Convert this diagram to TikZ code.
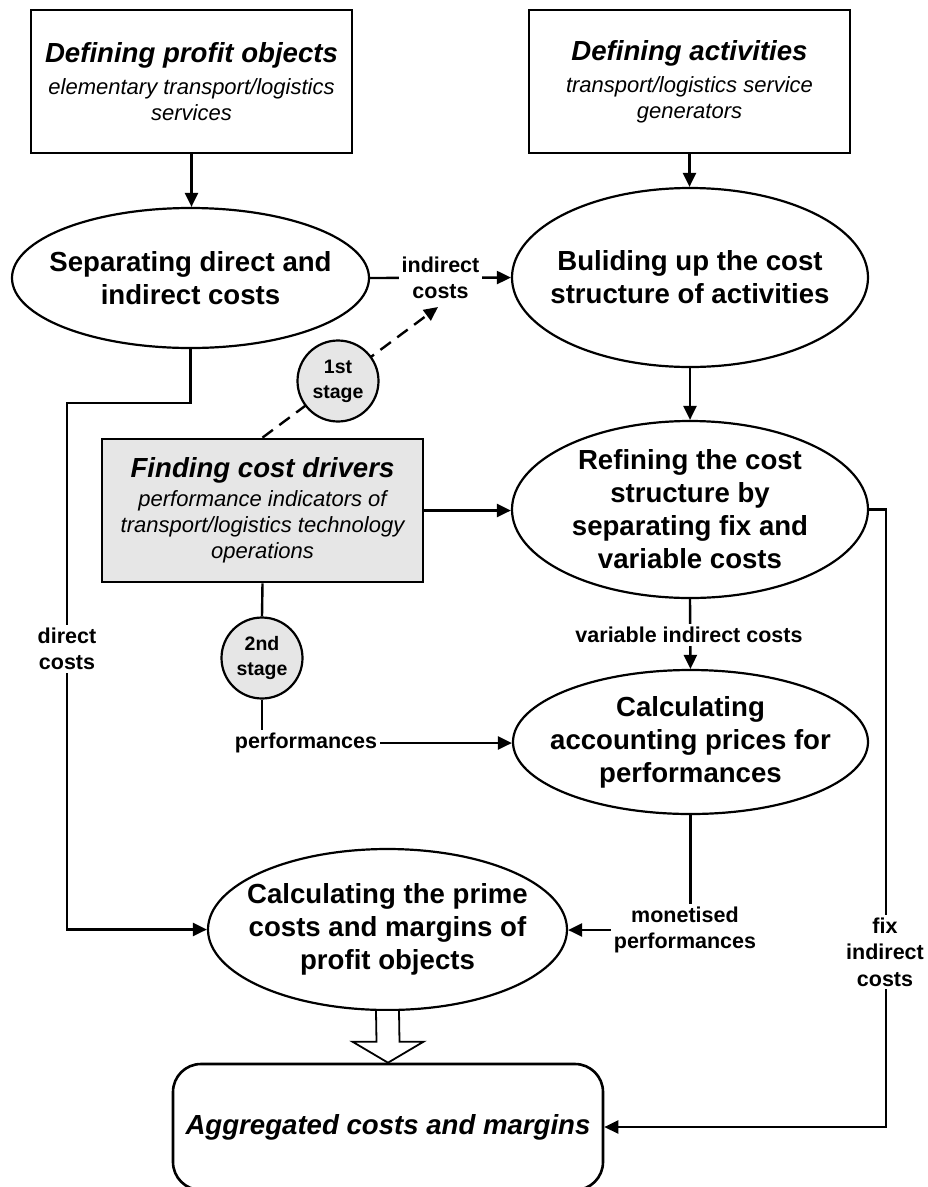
\documentclass[tikz,border=0pt]{standalone}
\usepackage{fontspec}
\setmainfont{Liberation Sans}
\usetikzlibrary{shapes.geometric,arrows.meta,calc,backgrounds}
\definecolor{boxgray}{HTML}{E6E6E6}
\newcommand{\fmain}{\fontsize{27.6}{33}\selectfont\bfseries}
\newcommand{\ftitle}{\fontsize{27.6}{33}\selectfont\bfseries\itshape}
\newcommand{\fsub}{\fontsize{22}{26}\selectfont\itshape}
\newcommand{\flbl}{\fontsize{21.5}{26.5}\selectfont\bfseries}
\newcommand{\fstage}{\fontsize{19.5}{25}\selectfont\bfseries}
\begin{document}
\begin{tikzpicture}[x=1pt,y=-1pt,
 rbox/.style={draw, line width=2.8pt, minimum width=321pt, minimum height=143pt, inner sep=0pt, align=center, font=\fsub},
 ell/.style={ellipse, draw, line width=2.2pt, inner sep=0pt},
 ellt/.style={align=center, font=\fmain, inner sep=0pt},
 lbl/.style={fill=white, inner sep=3pt, align=center, font=\flbl},
 stagec/.style={circle, draw, fill=boxgray, line width=2.2pt, minimum size=81pt, inner sep=0pt, align=center, font=\fstage},
 arr/.style={-{Triangle[length=14pt,width=13pt]}, line width=2.4pt},
 ln/.style={line width=2.4pt},
 dasharr/.style={arr, dash pattern=on 13pt off 8pt},
]
\useasboundingbox (0,0) rectangle (928,1187);

% boxes
\node[rbox] (pobj) at (191.5,81.5) {{\ftitle Defining profit objects}\\[6pt]elementary transport/logistics\\services};
\node[rbox] (act) at (689.5,81.5) {{\ftitle Defining activities}\\[6pt]transport/logistics service\\generators};
\node[rbox, fill=boxgray] (drv) at (262.5,510.5) {{\ftitle Finding cost drivers}\\[3pt]performance indicators of\\transport/logistics technology\\operations};

% ellipses
\node[ell, minimum width=357pt, minimum height=140pt] (sep) at (190.5,278) {};
\node[ellt] (sept) at (sep) {Separating direct and\\indirect costs};
\node[ell, minimum width=356pt, minimum height=179pt] (build) at (690,277.5) {};
\node[ellt] (buildt) at (build) {Buliding up the cost\\structure of activities};
\node[ell, minimum width=356pt, minimum height=177pt] (refine) at (690,509.5) {};
\node[ellt] (refinet) at (refine) {Refining the cost\\structure by\\separating fix and\\variable costs};
\node[ell, minimum width=355pt, minimum height=144pt] (acc) at (690.5,742) {};
\node[ellt] (acct) at (acc) {Calculating\\accounting prices for\\performances};
\node[ell, minimum width=359pt, minimum height=161pt] (prime) at (387.5,929.5) {};
\node[ellt] (primet) at (prime) {Calculating the prime\\costs and margins of\\profit objects};

\node[draw, rounded corners=28pt, line width=2.6pt, minimum width=430pt, minimum height=126pt, font=\ftitle] (agg) at (388,1127) {Aggregated costs and margins};

% stage circles
\node[stagec] (st1) at (338,381) {1st\\stage};
\node[stagec] (st2) at (262,658) {2nd\\stage};

% labels
\node[lbl] (lind) at (440.5,278) {indirect\\costs};
\node[lbl] (ldir) at (67,649) {direct\\costs};
\node[lbl] (lperf) at (306,743) {performances};
\node[lbl] (lvar) at (689,635) {variable indirect costs};
\node[lbl] (lmon) at (685,930) {monetised\\performances};
\node[lbl] (lfix) at (885,952) {fix\\indirect\\costs};

\coordinate (dtip) at (438,307);
\coordinate (dk1) at (190.5,403);
\coordinate (dk2) at (67,403);

\begin{scope}[on background layer]
\draw[arr] (pobj.south) -- (pobj.south |- sep.north);
\draw[arr] (act.south) -- (act.south |- build.north);
\draw[arr] (sep.east) -- (build.west);
\draw[arr] (build.south) -- (refine.north);
\draw[arr] (drv.east) -- (drv.east -| refine.west);
\draw[dasharr] (drv.north) -- (dtip);
\draw[arr] (sep.south) -- (dk1) -- (dk2) |- (prime.west);
\draw[ln] (drv.south) -- (st2.north);
\draw[ln] (st2.south) -- (st2.south |- lperf.north);
\draw[arr] (lperf.east) -- (lperf.east -| acc.west);
\draw[arr] (refine.south) -- (acc.north);
\draw[ln] (acc.south) -- (acc.south |- lmon.north);
\draw[arr] (lmon.west) -- (lmon.west -| prime.east);
\draw[arr] (refine.east) -- ++(17,0) |- (agg.east);
\end{scope}

% hollow arrow
\draw[line width=1.8pt, fill=white] ($(prime.south)+(-11.5,0)$) -- ($(agg.north)+(-11.5,-21)$) -- ($(agg.north)+(-35.5,-21)$) -- (agg.north) -- ($(agg.north)+(35.5,-21)$) -- ($(agg.north)+(11.5,-21)$) -- ($(prime.south)+(11.5,0)$);
\end{tikzpicture}
\end{document}
